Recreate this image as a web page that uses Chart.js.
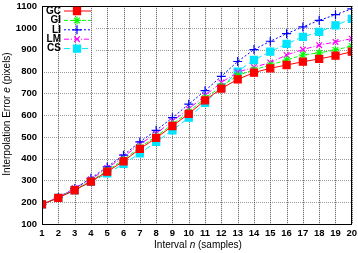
<!DOCTYPE html>
<html>
<head>
<meta charset="utf-8">
<script src="https://cdn.jsdelivr.net/npm/chart.js@4"></script>
<style>
  html, body { margin: 0; padding: 0; background: #fff; }
  #wrap { width: 358px; height: 253px; }
</style>
</head>
<body>
<div id="wrap"><canvas id="chart"></canvas></div>
<script>
// Interval n (samples)
const intervals = [1, 2, 3, 4, 5, 6, 7, 8, 9, 10, 11, 12, 13, 14, 15, 16, 17, 18, 19, 20];
// Interpolation error e (pixels) per method
const gcErr = [190, 220, 255, 295, 340, 388, 445, 495, 550, 606, 668, 722, 764, 795, 815, 830, 845, 858, 873, 891];
const giErr = [190, 221, 258, 298, 345, 395, 452, 502, 558, 615, 678, 732, 782, 808, 830, 853, 876, 886, 899, 917];
const liErr = [190, 222, 262, 310, 362, 416, 477, 530, 588, 650, 712, 778, 846, 901, 939, 974, 1005, 1035, 1061, 1088];
const lmErr = [190, 223, 265, 305, 357, 408, 467, 515, 573, 628, 690, 750, 797, 820, 841, 876, 901, 921, 936, 951];
const csErr = [190, 220, 255, 293, 332, 376, 424, 477, 530, 588, 656, 727, 800, 853, 891, 927, 959, 982, 1012, 1042];

const FONT = '"Liberation Sans", Arial, sans-serif';

const series = [
    { label: 'GC', data: gcErr, color: '#ff0000', dash: [], style: 'rect', r: 5 },
    { label: 'GI', data: giErr, color: '#00ff00', dash: [4, 2], style: 'star', r: 4 },
    { label: 'LI', data: liErr, color: '#0000ff', dash: [2, 2], style: 'cross', r: 4.5 },
    { label: 'LM', data: lmErr, color: '#ff00ff', dash: [5, 2, 1, 2], style: 'crossRot', r: 4 },
    { label: 'CS', data: csErr, color: '#00e5ff', dash: [6, 3], style: 'rect', r: 5 },
];

// dotted grid drawn under the data; horizontal lines stop short of the key
const dotGrid = {
    id: 'dotGrid',
    beforeDatasetsDraw(chart) {
        const ctx = chart.ctx;
        const a = chart.chartArea;
        const xs = chart.scales.x, ys = chart.scales.y;
        ctx.save();
        ctx.lineWidth = 1;
        ctx.setLineDash([1, 1]);
        ctx.strokeStyle = '#999';
        ys.ticks.forEach(t => {
            const y = Math.round(ys.getPixelForValue(t.value)) + 0.5;
            ctx.beginPath(); ctx.moveTo(a.left, y); ctx.lineTo(a.right, y); ctx.stroke();
        });
        ctx.fillStyle = '#fff';
        ctx.fillRect(a.left + 1, a.top + 1, 53, 52);
        ctx.strokeStyle = '#555';
        xs.ticks.forEach(t => {
            const x = Math.round(xs.getPixelForValue(t.value)) + 0.5;
            ctx.beginPath(); ctx.moveTo(x, a.top); ctx.lineTo(x, a.bottom); ctx.stroke();
        });
        ctx.restore();
    }
};

// frame + legend + axis titles
const decor = {
    id: 'decor',
    afterDraw(chart) {
        const ctx = chart.ctx;
        const a = chart.chartArea;
        ctx.save();
        ctx.strokeStyle = '#000';
        ctx.lineWidth = 1;
        ctx.setLineDash([]);
        ctx.strokeRect(Math.round(a.left) + 0.5, Math.round(a.top) + 0.5,
            Math.round(a.right - a.left) - 1, Math.round(a.bottom - a.top));

        // legend
        ctx.font = 'bold 10px ' + FONT;
        ctx.textAlign = 'right';
        ctx.textBaseline = 'middle';
        series.forEach((s, i) => {
            const y = 11 + i * 9.4;
            ctx.fillStyle = '#000';
            ctx.fillText(s.label, 61, y);
            ctx.strokeStyle = s.color;
            ctx.lineWidth = 1;
            ctx.setLineDash(s.dash);
            ctx.beginPath();
            ctx.moveTo(64, y);
            ctx.lineTo(91, y);
            ctx.stroke();
            ctx.setLineDash([]);
            ctx.fillStyle = s.color;
            ctx.lineWidth = 1.2;
            Chart.helpers.drawPoint(ctx, { pointStyle: s.style, radius: s.r, rotation: 0, borderWidth: 1.2 }, 77, y);
        });

        // x title with italic n
        ctx.fillStyle = '#000';
        ctx.textBaseline = 'middle';
        ctx.textAlign = 'left';
        const parts = [['Interval ', ''], ['n', 'italic '], [' (samples)', '']];
        const fs = '10px ';
        let w = 0;
        parts.forEach(p => { ctx.font = p[1] + fs + FONT; w += ctx.measureText(p[0]).width; });
        let x = 198 - w / 2;
        parts.forEach(p => { ctx.font = p[1] + fs + FONT; ctx.fillText(p[0], x, 245); x += ctx.measureText(p[0]).width; });

        // y title with italic e
        const yparts = [['Interpolation Error ', ''], ['e', 'italic '], [' (pixels)', '']];
        w = 0;
        yparts.forEach(p => { ctx.font = p[1] + fs + FONT; w += ctx.measureText(p[0]).width; });
        ctx.translate(7, 114);
        ctx.rotate(-Math.PI / 2);
        x = -w / 2;
        yparts.forEach(p => { ctx.font = p[1] + fs + FONT; ctx.fillText(p[0], x, 0); x += ctx.measureText(p[0]).width; });
        ctx.restore();
    }
};

const tickFont = { family: FONT, size: 9.5, weight: 'bold' };

new Chart(document.getElementById('chart'), {
    type: 'line',
    data: {
        datasets: series.map(s => ({
            label: s.label,
            data: s.data.map((v, i) => ({ x: intervals[i], y: v })),
            borderColor: s.color,
            backgroundColor: s.color,
            borderWidth: 1,
            borderDash: s.dash,
            pointStyle: s.style,
            pointRadius: s.r,
            pointBorderWidth: 1.2,
            tension: 0,
        }))
    },
    options: {
        responsive: true, maintainAspectRatio: false,
        animation: false,
        layout: { padding: { top: 4, right: 4, left: 0, bottom: 0 } },
        plugins: { legend: { display: false }, tooltip: { enabled: false } },
        scales: {
            x: {
                type: 'linear', min: 1, max: 20,
                afterFit: s => { s.height = 29; s.paddingLeft = 0; s.paddingRight = 0; },
                grid: { display: false, drawTicks: false },
                border: { display: false },
                ticks: { stepSize: 1, autoSkip: false, maxRotation: 0, padding: 4, color: '#000', font: tickFont },
            },
            y: {
                min: 100, max: 1100,
                afterFit: s => { s.width = 42; s.paddingTop = 0; s.paddingBottom = 0; },
                grid: { display: false, drawTicks: false },
                border: { display: false },
                ticks: { stepSize: 100, padding: 5, color: '#000', font: tickFont, callback: v => String(v) },
            },
        }
    },
    plugins: [dotGrid, decor]
});
</script>
</body>
</html>
